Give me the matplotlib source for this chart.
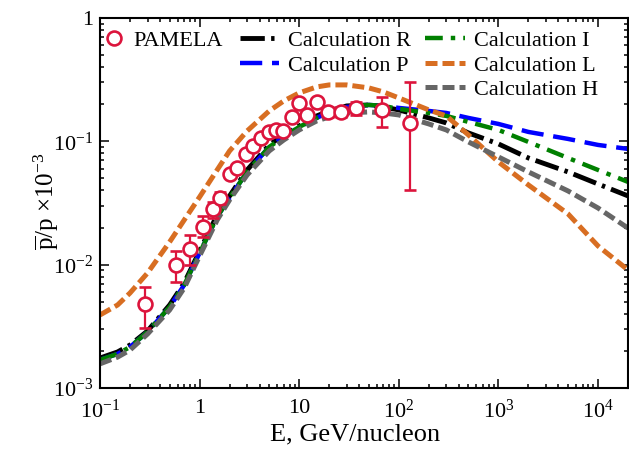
import numpy as np
import matplotlib
matplotlib.use("Agg")
import matplotlib.pyplot as plt
from matplotlib.lines import Line2D

plt.rcParams['font.family'] = ['Liberation Serif', 'DejaVu Serif']
plt.rcParams['mathtext.fontset'] = 'custom'
plt.rcParams['mathtext.rm'] = 'Liberation Serif'
plt.rcParams['mathtext.it'] = 'Liberation Serif:italic'

# energy grid of the calculated curves (GeV/nucleon)
energy = [0.1, 0.15, 0.2, 0.3, 0.5, 0.7, 1, 1.5, 2, 3, 5, 7, 10, 15, 20, 30, 50, 70,
          100, 200, 300, 500, 1000, 2000, 5000, 10000, 20000]

calc_R = [1.75e-3, 1.96e-3, 2.23e-3, 2.90e-3, 4.71e-3, 7.10e-3, 1.29e-2, 2.53e-2, 3.61e-2,
          5.86e-2, 9.35e-2, 0.1127, 0.1333, 0.1607, 0.1764, 0.1937, 0.1974, 0.190,
          0.1797, 0.1548, 0.141, 0.117, 0.0953, 0.0733, 0.0565, 0.0451, 0.0361]
calc_P = [1.69e-3, 1.89e-3, 2.15e-3, 2.85e-3, 4.54e-3, 6.84e-3, 1.244e-2, 2.44e-2, 3.48e-2,
          5.65e-2, 9.01e-2, 0.1086, 0.1309, 0.1548, 0.1731, 0.190, 0.1974, 0.1937,
          0.1866, 0.1764, 0.1699, 0.1548, 0.1384, 0.1192, 0.1046, 0.0935, 0.0868]
calc_I = [1.69e-3, 1.89e-3, 2.15e-3, 2.85e-3, 4.54e-3, 6.84e-3, 1.244e-2, 2.44e-2, 3.48e-2,
          5.65e-2, 9.01e-2, 0.1086, 0.1309, 0.1548, 0.1731, 0.190, 0.1974, 0.1937,
          0.1832, 0.1699, 0.1607, 0.1437, 0.1237, 0.0989, 0.0733, 0.0586, 0.0469]
calc_L = [3.91e-3, 4.71e-3, 5.89e-3, 8.56e-3, 1.528e-2, 2.30e-2, 3.54e-2, 5.86e-2, 8.36e-2,
          0.1214, 0.1764, 0.2127, 0.247, 0.2762, 0.2867, 0.2867, 0.2711, 0.2516,
          0.2249, 0.1797, 0.1607, 0.1127, 0.0681, 0.0443, 0.0258, 0.01418, 0.00906]
calc_H = [1.57e-3, 1.78e-3, 2.03e-3, 2.74e-3, 4.29e-3, 6.47e-3, 1.177e-2, 2.30e-2, 3.35e-2,
          5.34e-2, 8.36e-2, 0.1026, 0.1237, 0.1464, 0.1577, 0.1699, 0.1731, 0.1699,
          0.1637, 0.1384, 0.1237, 0.0989, 0.0747, 0.0565, 0.0396, 0.0288, 0.0198]

# PAMELA antiproton/proton ratio (x 1e-3)
pam_e = [0.282, 0.575, 0.794, 1.07, 1.35, 1.62, 2.0, 2.4, 2.95, 3.47, 4.17, 5.01, 5.89,
         6.92, 8.51, 10.0, 12.0, 15.1, 19.5, 26.3, 37.2, 67.6, 129]
pam_r = [4.80e-3, 9.95e-3, 1.34e-2, 2.02e-2, 2.83e-2, 3.47e-2, 5.44e-2, 6.09e-2, 7.90e-2,
         9.18e-2, 0.1066, 0.119, 0.1236, 0.121, 0.158, 0.205, 0.164, 0.209, 0.173, 0.173,
         0.186, 0.180, 0.141]
pam_lo = [3.07e-3, 7.24e-3, 9.95e-3, 1.68e-2, 2.39e-2, 3.1e-2, 5.1e-2, 5.8e-2, 7.5e-2,
          8.8e-2, 0.102, 0.114, 0.118, 0.115, 0.150, 0.195, 0.155, 0.198, 0.158, 0.157,
          0.165, 0.131, 0.0403]
pam_hi = [6.6e-3, 1.29e-2, 1.74e-2, 2.48e-2, 3.23e-2, 3.85e-2, 5.8e-2, 6.4e-2, 8.3e-2,
          9.6e-2, 0.111, 0.124, 0.129, 0.127, 0.166, 0.215, 0.173, 0.220, 0.189, 0.190,
          0.208, 0.229, 0.303]

xticks = [0.1, 1, 10, 100, 1000, 10000]
xtick_labels = ['10$^{-1}$', '1', '10', '10$^{2}$', '10$^{3}$', '10$^{4}$']
yticks = [1e-3, 1e-2, 1e-1, 1]
ytick_labels = ['10$^{-3}$', '10$^{-2}$', '10$^{-1}$', '1']

fig = plt.figure(figsize=(6.29, 4.57), dpi=100)
ax = fig.add_axes([100 / 629, 69 / 457, 528 / 629, 370 / 457])

lR, = ax.plot(energy, calc_R, color='black', lw=3.5, dashes=(5, 1.3, 0.7, 1.3))
lP, = ax.plot(energy, calc_P, color='#0000ff', lw=3.2, dashes=(5, 2.2))
lI, = ax.plot(energy, calc_I, color='#008000', lw=3.2, dashes=(4, 1.8, 1, 1.8))
lL, = ax.plot(energy, calc_L, color='#d86e22', lw=3.6, dashes=(2.4, 1.0))
lH, = ax.plot(energy, calc_H, color='#666666', lw=3.6, dashes=(2.4, 1.0))

r = np.array(pam_r)
yerr = [r - np.array(pam_lo), np.array(pam_hi) - r]
ax.errorbar(pam_e, pam_r, yerr=yerr, fmt='o', color='#dc143c', mfc='white', mec='#dc143c',
            ms=10, mew=1.9, elinewidth=1.6, capsize=4, capthick=1.6, zorder=5)

ax.set_xscale('log')
ax.set_yscale('log')
ax.set_xlim(0.1, 2e4)
ax.set_ylim(1e-3, 1)
ax.set_xticks(xticks)
ax.set_xticklabels(xtick_labels)
ax.set_yticks(yticks)
ax.set_yticklabels(ytick_labels)
ax.tick_params(which='both', direction='in', top=True, right=True, labelsize=16, width=1.1)
ax.tick_params(which='major', length=6.5)
ax.tick_params(axis='y', which='major', pad=5)
ax.tick_params(axis='x', which='major', pad=8)
ax.tick_params(which='minor', length=3)
for s in ax.spines.values():
    s.set_linewidth(1.5)

ax.set_xlabel('E, GeV/nucleon', fontsize=19)
ax.xaxis.set_label_coords(0.483, -0.097)
ax.set_ylabel(r'$\overline{\mathrm{p}}$/p $\times$10$^{-3}$', fontsize=18)
ax.yaxis.set_label_coords(-0.072, 0.505)

pam_handle = Line2D([], [], ls='none', marker='o', color='#dc143c', mfc='white', ms=10, mew=1.9)
kw = dict(frameon=False, fontsize=16, loc='upper left', borderpad=0, borderaxespad=0,
          labelspacing=0.18, handletextpad=0.4)
leg1 = ax.legend([pam_handle], ['PAMELA'], bbox_to_anchor=(0.006, 0.966), handlelength=0.95, **kw)
ax.add_artist(leg1)
leg2 = ax.legend([lR, lP], ['Calculation R', 'Calculation P'], bbox_to_anchor=(0.265, 0.966),
                 handlelength=1.75, **kw)
ax.add_artist(leg2)
ax.legend([lI, lL, lH], ['Calculation I', 'Calculation L', 'Calculation H'],
          bbox_to_anchor=(0.616, 0.966), handlelength=1.8, **kw)

fig.savefig('out.png', dpi=100)
